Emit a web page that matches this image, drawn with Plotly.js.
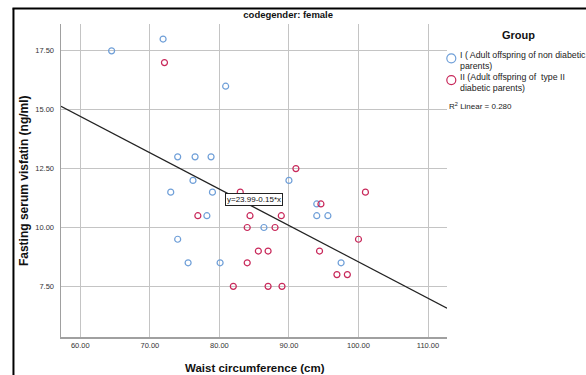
<!DOCTYPE html>
<html>
<head>
<meta charset="utf-8">
<script src="https://cdn.plot.ly/plotly-3.0.1.min.js"></script>
<style>html,body{margin:0;padding:0;background:#fff;}#chart{width:586px;height:375px;}</style>
</head>
<body>
<div id="chart"></div>
<script>
// Group I (Adult offspring of non diabetic parents)
var groupI_x = [64.5, 71.9, 80.9, 74.0, 76.5, 78.8, 76.2, 90.0, 73.0, 79.0, 94.0, 78.2, 94.0, 95.6, 86.4, 74.0, 75.5, 80.1, 97.5];
var groupI_y = [17.5, 18.0, 16.0, 13.0, 13.0, 13.0, 12.0, 12.0, 11.5, 11.5, 11.0, 10.5, 10.5, 10.5, 10.0, 9.5, 8.5, 8.5, 8.5];
// Group II (Adult offspring of type II diabetic parents)
var groupII_x = [72.1, 91.0, 83.0, 101.0, 94.6, 76.9, 84.4, 88.9, 84.0, 88.0, 100.0, 85.6, 87.0, 94.4, 84.0, 96.9, 98.4, 82.0, 87.0, 89.0];
var groupII_y = [17.0, 12.5, 11.5, 11.5, 11.0, 10.5, 10.5, 10.5, 10.0, 10.0, 9.5, 9.0, 9.0, 9.0, 8.5, 8.0, 8.0, 7.5, 7.5, 7.5];
// Fit line (as printed: y=23.99-0.15*x), endpoints spanning the axis
var fitIntercept = 23.99;
var fitSlope = -0.1545;
var fitX = [57.22, 112.73];
var xTicks = [60, 70, 80, 90, 100, 110];
var yTicks = [7.5, 10, 12.5, 15, 17.5];
var groupNames = ["I ( Adult offspring of non diabetic<br>parents)", "II (Adult offspring of  type II<br>diabetic parents)"];
var r2Text = "R<sup>2</sup> Linear = 0.280";
var eqText = "y=23.99-0.15*x";

var W = 586, H = 375;
var L = 61, R = 446.7, T = 24, B = 336.7;
function px(x){ return (x - L) / (R - L); }
function py(y){ return (B - y) / (B - T); }

var sans = "Liberation Sans, Arial, sans-serif";
var blue = "#6f9fd8";
var red = "#c8285a";

var traces = [
  {x: groupI_x, y: groupI_y, type: "scatter", mode: "markers", name: "I",
   marker: {symbol: "circle-open", size: 6, color: blue, line: {width: 1.2, color: blue}}, showlegend: false},
  {x: groupII_x, y: groupII_y, type: "scatter", mode: "markers", name: "II",
   marker: {symbol: "circle-open", size: 6, color: red, line: {width: 1.2, color: red}}, showlegend: false},
  {x: fitX, y: fitX.map(function(v){ return fitIntercept + fitSlope * v; }), type: "scatter", mode: "lines",
   line: {color: "#222", width: 1.2}, showlegend: false}
];

var annotations = [
  {xref: "paper", yref: "paper", x: px(255), y: py(368), xanchor: "center", yanchor: "middle", showarrow: false,
   text: "<b>Waist circumference (cm)</b>", font: {family: sans, size: 11.5, color: "#111"}},
  {xref: "paper", yref: "paper", x: px(24), y: py(180), xanchor: "center", yanchor: "middle", showarrow: false, textangle: -90,
   text: "<b>Fasting serum visfatin (ng/ml)</b>", font: {family: sans, size: 12, color: "#111"}},
  {xref: "x", yref: "y", x: 85.0, y: 11.19, xanchor: "center", yanchor: "middle", showarrow: false,
   text: eqText, font: {family: sans, size: 8, color: "#111"}, bgcolor: "#fff", bordercolor: "#222", borderwidth: 1, borderpad: 1},
  {xref: "paper", yref: "paper", x: px(518), y: py(35), xanchor: "center", yanchor: "middle", showarrow: false,
   text: "<b>Group</b>", font: {family: sans, size: 11, color: "#111"}},
  {xref: "paper", yref: "paper", x: px(457.5), y: py(60.8), xanchor: "left", yanchor: "middle", align: "left", showarrow: false,
   text: groupNames[0], font: {family: sans, size: 8.8, color: "#222"}},
  {xref: "paper", yref: "paper", x: px(457.5), y: py(82.2), xanchor: "left", yanchor: "middle", align: "left", showarrow: false,
   text: groupNames[1], font: {family: sans, size: 8.8, color: "#222"}},
  {xref: "paper", yref: "paper", x: px(446.5), y: py(106), xanchor: "left", yanchor: "middle", showarrow: false,
   text: r2Text, font: {family: sans, size: 8, color: "#222"}}
];

var layout = {
  width: W, height: H,
  margin: {l: L, r: W - R, t: T, b: H - B, pad: 0},
  paper_bgcolor: "#fff", plot_bgcolor: "#fff",
  showlegend: false,
  title: {text: "<b>codegender: female</b>", font: {family: sans, size: 9.5, color: "#111"},
          xref: "paper", x: px(288), xanchor: "center", yref: "container", y: 1 - 15/H, yanchor: "middle"},
  xaxis: {range: [57.22, 112.73], tickvals: xTicks, ticktext: xTicks.map(function(v){return v.toFixed(2);}),
          showgrid: true, gridcolor: "#c4c4c4", gridwidth: 1, zeroline: false,
          showline: true, linecolor: "#a0a0a0", linewidth: 2, ticks: "",
          tickfont: {family: sans, size: 7.5, color: "#333"}, fixedrange: true},
  yaxis: {range: [5.35, 18.64], tickvals: yTicks, ticktext: yTicks.map(function(v){return v.toFixed(2);}),
          showgrid: true, gridcolor: "#c4c4c4", gridwidth: 1, zeroline: false,
          showline: true, linecolor: "#a0a0a0", linewidth: 1.5, ticks: "outside", ticklen: 4, tickcolor: "rgba(0,0,0,0)",
          tickfont: {family: sans, size: 7.5, color: "#333"}, fixedrange: true},
  annotations: annotations,
  shapes: [
    {type: "line", xref: "paper", yref: "paper", x0: px(13.5), x1: px(13.5), y0: py(8.5), y1: py(376), line: {color: "#000", width: 2}},
    {type: "line", xref: "paper", yref: "paper", x0: px(12.5), x1: px(587), y0: py(8.5), y1: py(8.5), line: {color: "#000", width: 2}},
    {type: "circle", xref: "paper", yref: "paper", x0: px(446.5), x1: px(455.5), y0: py(53.8), y1: py(62.8), line: {color: blue, width: 1.2}},
    {type: "circle", xref: "paper", yref: "paper", x0: px(446.5), x1: px(455.5), y0: py(75.5), y1: py(84.5), line: {color: red, width: 1.2}}
  ]
};

Plotly.newPlot("chart", traces, layout, {displayModeBar: false, staticPlot: true});
</script>
</body>
</html>
